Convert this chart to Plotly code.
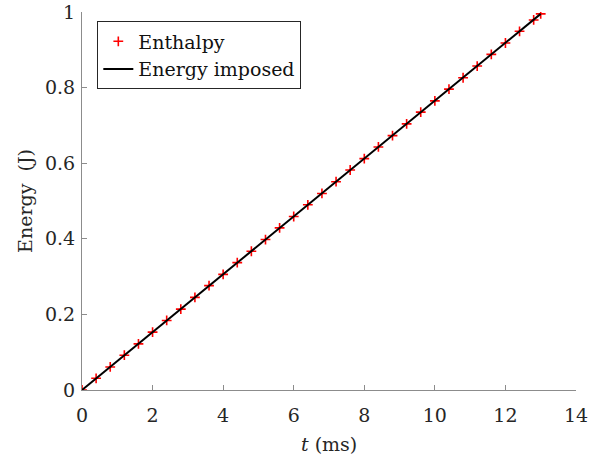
import plotly.graph_objects as go

# Enthalpy samples (t in ms, energy in J)
t_enthalpy = [0.0, 0.4, 0.8, 1.2, 1.6, 2.0, 2.4, 2.8, 3.2, 3.6, 4.0, 4.4, 4.8, 5.2,
              5.6, 6.0, 6.4, 6.8, 7.2, 7.6, 8.0, 8.4, 8.8, 9.2, 9.6, 10.0, 10.4,
              10.8, 11.2, 11.6, 12.0, 12.4, 12.8, 13.0]
e_enthalpy = [0.000, 0.031, 0.061, 0.092, 0.122, 0.153, 0.184, 0.214, 0.245, 0.276,
              0.306, 0.337, 0.367, 0.398, 0.429, 0.459, 0.490, 0.520, 0.551, 0.582,
              0.612, 0.643, 0.673, 0.704, 0.735, 0.765, 0.796, 0.826, 0.857, 0.888,
              0.918, 0.949, 0.979, 0.995]

# Imposed energy line
t_imposed = [0.0, 13.0]
e_imposed = [0.0, 0.995]

x_ticks = [0, 2, 4, 6, 8, 10, 12, 14]
y_ticks = [0, 0.2, 0.4, 0.6, 0.8, 1]
y_tick_labels = ["0", "0.2", "0.4", "0.6", "0.8", "1"]

FONT = "DejaVu Serif"
AXC = "#8c8c8c"

fig = go.Figure()
fig.add_trace(go.Scatter(
    x=t_enthalpy, y=e_enthalpy, mode="markers", name="Enthalpy",
    marker=dict(symbol="cross-thin-open", size=7, color="red",
                line=dict(color="red", width=1.6)),
))
fig.add_trace(go.Scatter(
    x=t_imposed, y=e_imposed, mode="lines", name="Energy imposed",
    line=dict(color="black", width=2),
))

fig.update_layout(
    width=589, height=454,
    margin=dict(l=82, r=13, t=12, b=64),
    paper_bgcolor="white", plot_bgcolor="white",
    font=dict(family=FONT, size=19, color="#262626"),
    showlegend=True,
    legend=dict(x=0.031, y=0.975, xanchor="left", yanchor="top",
                bgcolor="white", bordercolor="#262626", borderwidth=1,
                font=dict(family=FONT, size=19, color="#111111"),
                tracegroupgap=0, itemwidth=30),
    xaxis=dict(range=[0, 14], tickvals=x_ticks, ticks="inside", ticklen=5,
               tickcolor=AXC, showline=True, linecolor=AXC, linewidth=1,
               showgrid=False, zeroline=False, mirror=False, automargin=False,
               ticklabelstandoff=8),
    yaxis=dict(range=[0, 1], tickvals=y_ticks, ticktext=y_tick_labels,
               ticks="inside", ticklen=5, tickcolor=AXC, showline=True,
               linecolor=AXC, linewidth=1, showgrid=False, zeroline=False,
               mirror=False, automargin=False, ticklabelstandoff=2,
               title=dict(text="Energy  (J)", standoff=7,
                          font=dict(family=FONT, size=19, color="#262626"))),
    annotations=[dict(text="<i>t</i> (ms)", xref="paper", yref="paper",
                      x=0.5, y=0, xanchor="center", yanchor="middle",
                      yshift=-54, showarrow=False,
                      font=dict(family=FONT, size=19, color="#262626"))],
)

# remove the browser's default 8px body margin so the figure fills the window
fig.write_html("out.html",
               config={"displayModeBar": False},
               post_script="document.body.style.margin='0';document.body.style.overflow='hidden';")
